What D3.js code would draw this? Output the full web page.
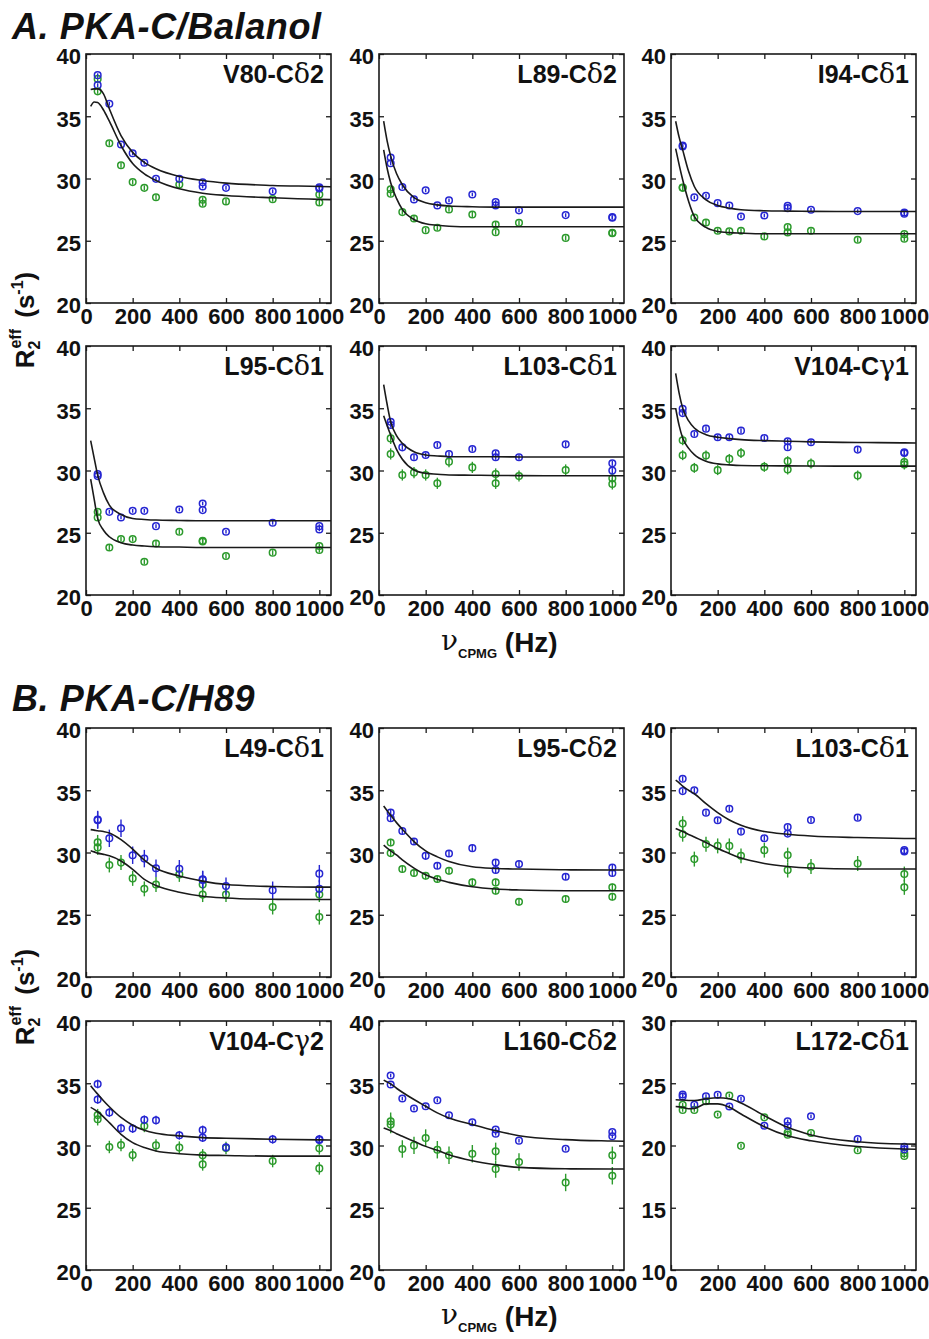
<!DOCTYPE html>
<html>
<head>
<meta charset="utf-8">
<script src="https://cdn.jsdelivr.net/npm/d3@7"></script>
<style>
  body { margin: 0; background: #fff; }
  svg { display: block; }
  text { font-family: "Liberation Sans", Arial, sans-serif; font-weight: bold; fill: #111; }
</style>
</head>
<body>
<svg id="fig" width="929" height="1339"></svg>
<script>
// CPMG frequencies (Hz) of the measured points; 50, 500 and 1000 Hz were repeated
const nu = [50, 50, 100, 150, 200, 250, 300, 400, 500, 500, 600, 800, 1000, 1000];
// frequencies at which the fitted dispersion curves are sampled
const fitNu = [20, 35, 50, 75, 100, 150, 200, 250, 300, 400, 500, 600, 800, 1000, 1050];

const xTicks = [0, 200, 400, 600, 800, 1000];
const yTicks = [20, 25, 30, 35, 40];
const yTicksLow = [10, 15, 20, 25, 30];

const sectionTitles = ["A. PKA-C/Balanol", "B. PKA-C/H89"];
const panelLabels = ["V80-Cδ2", "L89-Cδ2", "I94-Cδ1", "L95-Cδ1", "L103-Cδ1", "V104-Cγ1",
                     "L49-Cδ1", "L95-Cδ2", "L103-Cδ1", "V104-Cγ2", "L160-Cδ2", "L172-Cδ1"];

// R2eff (s^-1), blue and green series, one pair per residue
const v80Blue   = [38.3, 37.5, 36.0, 32.73, 32.03, 31.26, 29.97, 29.97, 29.7, 29.36, 29.25, 28.98, 29.3, 29.2];
const v80Green  = [38.0, 37.0, 32.83, 31.07, 29.71, 29.25, 28.5, 29.52, 28.29, 27.97, 28.16, 28.34, 28.72, 28.07];
const l89Blue   = [31.68, 31.22, 29.32, 28.32, 29.05, 27.84, 28.24, 28.72, 28.11, 27.84, 27.44, 27.06, 26.9, 26.85];
const l89Green  = [29.13, 28.78, 27.3, 26.79, 25.85, 26.04, 27.52, 27.11, 26.31, 25.69, 26.44, 25.23, 25.64, 25.6];
const i94Blue   = [32.65, 32.58, 28.48, 28.61, 28.02, 27.83, 26.95, 27.03, 27.81, 27.62, 27.49, 27.38, 27.27, 27.17];
const i94Green  = [29.28, 29.25, 26.87, 26.47, 25.8, 25.75, 25.8, 25.35, 26.1, 25.67, 25.8, 25.08, 25.53, 25.16];
const l95aBlue  = [29.71, 29.55, 26.68, 26.23, 26.76, 26.76, 25.53, 26.87, 27.35, 26.82, 25.08, 25.8, 25.53, 25.27];
const l95aGreen = [26.68, 26.23, 23.82, 24.49, 24.49, 22.67, 24.14, 25.08, 24.36, 24.3, 23.13, 23.4, 23.93, 23.61];
const l103aBlue = [33.92, 33.65, 31.86, 31.06, 31.25, 32.05, 31.33, 31.73, 31.38, 31.06, 31.06, 32.1, 30.58, 29.99];
const l103aGreen= [32.58, 31.33, 29.64, 29.83, 29.64, 28.97, 30.71, 30.25, 29.72, 28.97, 29.56, 30.04, 29.37, 28.92];
const v104aBlue = [34.96, 34.61, 32.93, 33.36, 32.67, 32.67, 33.2, 32.61, 32.35, 31.87, 32.27, 31.68, 31.47, 31.41];
const v104aGreen= [32.43, 31.23, 30.21, 31.2, 30.03, 30.93, 31.41, 30.29, 30.75, 30.08, 30.56, 29.6, 30.67, 30.48];
const l49Blue   = [32.65, 32.6, 31.14, 31.95, 29.78, 29.51, 28.73, 28.7, 27.84, 27.8, 27.3, 26.97, 28.3, 27.08];
const l49Green  = [30.81, 30.41, 29.0, 29.19, 27.92, 27.08, 27.43, 28.24, 27.43, 26.62, 26.62, 25.62, 26.62, 24.81];
const l95bBlue  = [33.2, 32.75, 31.73, 30.88, 29.73, 28.93, 29.92, 30.35, 29.2, 28.59, 29.07, 28.05, 28.8, 28.35];
const l95bGreen = [30.8, 29.95, 28.67, 28.35, 28.13, 27.87, 28.53, 27.6, 27.6, 26.93, 26.05, 26.27, 27.2, 26.45];
const l103bBlue = [35.92, 34.93, 34.99, 33.2, 32.59, 33.52, 31.68, 31.15, 32.05, 31.52, 32.61, 32.8, 30.19, 30.08];
const l103bGreen= [32.32, 31.47, 29.47, 30.67, 30.53, 30.53, 29.73, 30.19, 29.79, 28.59, 28.88, 29.12, 28.27, 27.2];
const v104bBlue = [34.94, 33.7, 32.65, 31.39, 31.36, 32.06, 32.03, 30.82, 31.25, 30.63, 29.85, 30.5, 30.5, 30.45];
const v104bGreen= [32.44, 32.11, 29.88, 30.04, 29.23, 31.57, 30.01, 29.83, 29.21, 28.48, 29.8, 28.75, 29.77, 28.16];
const l160Blue  = [35.62, 34.9, 33.77, 32.97, 33.15, 33.64, 32.43, 31.87, 31.28, 30.95, 30.39, 29.74, 31.09, 30.74];
const l160Green = [31.95, 31.68, 29.72, 30.01, 30.6, 29.66, 29.21, 29.34, 29.53, 28.11, 28.67, 27.03, 29.21, 27.57];
const l172Blue  = [24.1, 23.94, 23.26, 23.96, 24.07, 23.13, 23.75, 21.59, 21.94, 21.59, 22.35, 20.51, 19.89, 19.7];
const l172Green = [23.26, 22.86, 22.86, 23.56, 22.48, 24.02, 19.97, 22.26, 21.05, 20.86, 21.0, 19.62, 19.38, 19.16];

// error bar half-widths (s^-1), per panel
const errBlue  = [0.15, 0.15, 0.15, 0.15, 0.2, 0.2, 0.7, 0.25, 0.2, 0.35, 0.15, 0.15];
const errGreen = [0.2, 0.2, 0.2, 0.2, 0.45, 0.4, 0.6, 0.3, 0.6, 0.5, 0.7, 0.15];

// fitted dispersion curves sampled at fitNu
const v80FitBlue   = [37.15, 37.2, 37.2, 36.8, 35.6, 33.45, 32.1, 31.3, 30.78, 30.16, 29.84, 29.63, 29.44, 29.36, 29.33];
const v80FitGreen  = [35.8, 36.15, 36.1, 35.5, 34.6, 32.65, 31.2, 30.37, 29.84, 29.17, 28.82, 28.64, 28.45, 28.32, 28.3];
const l89FitBlue   = [34.6, 33.0, 31.8, 30.4, 29.5, 28.46, 28.05, 27.88, 27.79, 27.73, 27.7, 27.7, 27.7, 27.7, 27.7];
const l89FitGreen  = [32.3, 30.8, 29.66, 28.4, 27.52, 26.71, 26.36, 26.24, 26.17, 26.12, 26.12, 26.12, 26.12, 26.12, 26.12];
const i94FitBlue   = [34.6, 33.3, 32.3, 30.6, 29.36, 28.29, 27.83, 27.62, 27.49, 27.41, 27.38, 27.36, 27.35, 27.35, 27.35];
const i94FitGreen  = [32.4, 31.1, 29.9, 28.2, 26.95, 26.07, 25.75, 25.65, 25.61, 25.56, 25.56, 25.56, 25.56, 25.56, 25.56];
const l95aFitBlue  = [32.4, 31.0, 29.63, 28.2, 27.22, 26.47, 26.15, 26.07, 26.02, 25.99, 25.96, 25.96, 25.96, 25.96, 25.96];
const l95aFitGreen = [29.3, 27.7, 26.15, 25.2, 24.68, 24.2, 24.01, 23.93, 23.88, 23.85, 23.82, 23.82, 23.82, 23.82, 23.82];
const l103aFitBlue = [36.9, 35.3, 33.92, 32.8, 32.18, 31.51, 31.25, 31.17, 31.11, 31.1, 31.1, 31.09, 31.08, 31.08, 31.08];
const l103aFitGreen= [34.4, 33.6, 32.85, 31.7, 30.9, 30.04, 29.77, 29.7, 29.64, 29.62, 29.6, 29.59, 29.58, 29.58, 29.58];
const v104aFitBlue = [37.8, 36.2, 35.01, 34.0, 33.41, 32.88, 32.67, 32.56, 32.48, 32.4, 32.35, 32.3, 32.25, 32.22, 32.21];
const v104aFitGreen= [35.0, 33.6, 32.61, 31.8, 31.28, 30.75, 30.53, 30.45, 30.4, 30.38, 30.37, 30.36, 30.35, 30.35, 30.35];
const l49FitBlue   = [31.84, 31.8, 31.75, 31.68, 31.57, 31.03, 30.27, 29.38, 28.73, 28.11, 27.7, 27.43, 27.27, 27.22, 27.22];
const l49FitGreen  = [30.14, 30.05, 29.95, 29.85, 29.73, 29.32, 28.65, 27.84, 27.35, 26.81, 26.49, 26.35, 26.24, 26.22, 26.22];
const l95bFitBlue  = [33.73, 33.35, 32.99, 32.4, 31.87, 30.88, 30.13, 29.65, 29.28, 28.85, 28.72, 28.67, 28.61, 28.59, 28.59];
const l95bFitGreen = [30.59, 30.35, 30.13, 29.8, 29.41, 28.75, 28.21, 27.85, 27.6, 27.25, 27.07, 26.99, 26.93, 26.93, 26.93];
const l103bFitBlue = [35.81, 35.6, 35.33, 35.0, 34.72, 33.92, 33.2, 32.61, 32.19, 31.68, 31.47, 31.33, 31.2, 31.13, 31.12];
const l103bFitGreen= [31.92, 31.8, 31.68, 31.45, 31.25, 30.8, 30.32, 29.92, 29.55, 29.12, 28.88, 28.75, 28.67, 28.67, 28.67];
const v104bFitBlue = [34.8, 34.45, 34.13, 33.6, 33.11, 32.25, 31.63, 31.22, 30.98, 30.77, 30.63, 30.58, 30.5, 30.45, 30.44];
const v104bFitGreen= [33.06, 32.9, 32.71, 32.3, 31.84, 30.9, 30.23, 29.83, 29.56, 29.34, 29.23, 29.2, 29.15, 29.15, 29.15];
const l160FitBlue  = [35.25, 35.1, 34.95, 34.6, 34.28, 33.69, 33.15, 32.62, 32.21, 31.68, 31.19, 30.79, 30.47, 30.36, 30.34];
const l160FitGreen = [31.41, 31.3, 31.19, 30.95, 30.74, 30.34, 29.93, 29.61, 29.26, 28.78, 28.46, 28.24, 28.13, 28.11, 28.11];
const l172FitBlue  = [23.67, 23.66, 23.65, 23.62, 23.61, 23.75, 23.83, 23.75, 23.42, 22.4, 21.46, 20.85, 20.3, 20.12, 20.11];
const l172FitGreen = [23.13, 23.1, 23.07, 22.95, 22.98, 23.34, 23.34, 23.07, 22.53, 21.51, 20.78, 20.38, 19.92, 19.72, 19.7];

const blueSets  = [v80Blue, l89Blue, i94Blue, l95aBlue, l103aBlue, v104aBlue, l49Blue, l95bBlue, l103bBlue, v104bBlue, l160Blue, l172Blue];
const greenSets = [v80Green, l89Green, i94Green, l95aGreen, l103aGreen, v104aGreen, l49Green, l95bGreen, l103bGreen, v104bGreen, l160Green, l172Green];
const blueFits  = [v80FitBlue, l89FitBlue, i94FitBlue, l95aFitBlue, l103aFitBlue, v104aFitBlue, l49FitBlue, l95bFitBlue, l103bFitBlue, v104bFitBlue, l160FitBlue, l172FitBlue];
const greenFits = [v80FitGreen, l89FitGreen, i94FitGreen, l95aFitGreen, l103aFitGreen, v104aFitGreen, l49FitGreen, l95bFitGreen, l103bFitGreen, v104bFitGreen, l160FitGreen, l172FitGreen];

// ---- layout ----
const svg = d3.select("#fig");
const colLeft = [86, 379, 671];
const rowTop = [54, 346, 728, 1021];
const W = 245, H = 249;
const BLUE = "#2626d2", GREEN = "#2c9a2c", INK = "#1a1a1a";
const SERIF = "'DejaVu Serif', 'Liberation Serif', serif";

const line = (x, y) => d3.line().x(d => x(d[0])).y(d => y(d[1])).curve(d3.curveMonotoneX);

panelLabels.forEach((label, i) => {
  const col = i % 3, row = Math.floor(i / 3);
  const g = svg.append("g").attr("transform", `translate(${colLeft[col]},${rowTop[row]})`);
  const ticksY = i === 11 ? yTicksLow : yTicks;
  const x = d3.scaleLinear().domain([0, 1050]).range([0, W]);
  const y = d3.scaleLinear().domain(d3.extent(ticksY)).range([H, 0]);

  const styleAxis = sel => {
    sel.select(".domain").remove();
    sel.selectAll("line").attr("stroke", INK).attr("stroke-width", 1.3);
    sel.selectAll("text").attr("font-size", 22).attr("font-family", "'Liberation Sans', Arial, sans-serif")
       .attr("font-weight", "bold").attr("fill", "#111");
  };

  g.append("g").attr("transform", `translate(0,${H})`)
    .call(d3.axisBottom(x).tickValues(xTicks).tickFormat(d3.format("d")).tickSize(-5).tickPadding(5)).call(styleAxis);
  g.append("g")
    .call(d3.axisTop(x).tickValues(xTicks).tickSize(-5).tickFormat("")).call(styleAxis);
  g.append("g")
    .call(d3.axisLeft(y).tickValues(ticksY).tickFormat(d3.format("d")).tickSize(-5).tickPadding(5)).call(styleAxis)
    .selectAll("text").attr("dy", "0.45em");
  g.append("g").attr("transform", `translate(${W},0)`)
    .call(d3.axisRight(y).tickValues(ticksY).tickSize(-5).tickFormat("")).call(styleAxis);

  const series = [
    { vals: greenSets[i], fit: greenFits[i], err: errGreen[i], color: GREEN },
    { vals: blueSets[i], fit: blueFits[i], err: errBlue[i], color: BLUE }
  ];

  series.forEach(s => {
    const pts = nu.map((n, k) => [n, s.vals[k]]);
    g.append("g").selectAll("line").data(pts).join("line")
      .attr("x1", d => x(d[0])).attr("x2", d => x(d[0]))
      .attr("y1", d => y(d[1] - s.err)).attr("y2", d => y(d[1] + s.err))
      .attr("stroke", s.color).attr("stroke-width", 1.4);
    g.append("g").selectAll("circle").data(pts).join("circle")
      .attr("cx", d => x(d[0])).attr("cy", d => y(d[1])).attr("r", 3.3)
      .attr("fill", "none").attr("stroke", s.color).attr("stroke-width", 1.5);
  });

  series.forEach(s => {
    g.append("path").datum(fitNu.map((n, k) => [n, s.fit[k]]))
      .attr("d", line(x, y)).attr("fill", "none").attr("stroke", INK).attr("stroke-width", 1.6);
  });

  // frame
  g.append("rect").attr("width", W).attr("height", H)
    .attr("fill", "none").attr("stroke", INK).attr("stroke-width", 1.6);

  // residue label with the Greek letter set in a serif face
  const m = label.match(/^(.*?)([δγ])(.*)$/);
  const t = g.append("text").attr("x", W - 7).attr("y", 29).attr("text-anchor", "end").attr("font-size", 25);
  t.append("tspan").text(m[1]);
  t.append("tspan").attr("font-family", SERIF).attr("font-weight", "normal").attr("font-size", 27).text(m[2]);
  t.append("tspan").text(m[3]);
});

// section titles
const titleY = [39, 711];
sectionTitles.forEach((s, k) => {
  svg.append("text").attr("x", 12).attr("y", titleY[k]).attr("font-size", 36)
    .attr("letter-spacing", 0.6).attr("font-style", "italic").text(s);
});

// axis titles for each section
const yLabelCenter = [320, 997];
const xLabelBase = [652, 1326];
[0, 1].forEach(k => {
  const yt = svg.append("text").attr("transform", `translate(34,${yLabelCenter[k]}) rotate(-90)`)
    .attr("text-anchor", "middle").attr("font-size", 26);
  yt.append("tspan").text("R");
  yt.append("tspan").attr("font-size", 16).attr("dy", 6).text("2");
  yt.append("tspan").attr("font-size", 16).attr("dx", -8).attr("dy", -19).text("eff");
  yt.append("tspan").attr("dy", 13).attr("dx", 4).text(" (s");
  yt.append("tspan").attr("font-size", 16).attr("dy", -11).text("-1");
  yt.append("tspan").attr("dy", 11).text(")");

  const xt = svg.append("text").attr("x", 441).attr("y", xLabelBase[k]).attr("font-size", 28);
  xt.append("tspan").attr("font-family", SERIF).attr("font-weight", "normal").attr("font-size", 28).attr("dy", -2).text("ν");
  xt.append("tspan").attr("font-size", 13).attr("dy", 8).text("CPMG");
  xt.append("tspan").attr("dy", -6).text(" (Hz)");
});
</script>
</body>
</html>
